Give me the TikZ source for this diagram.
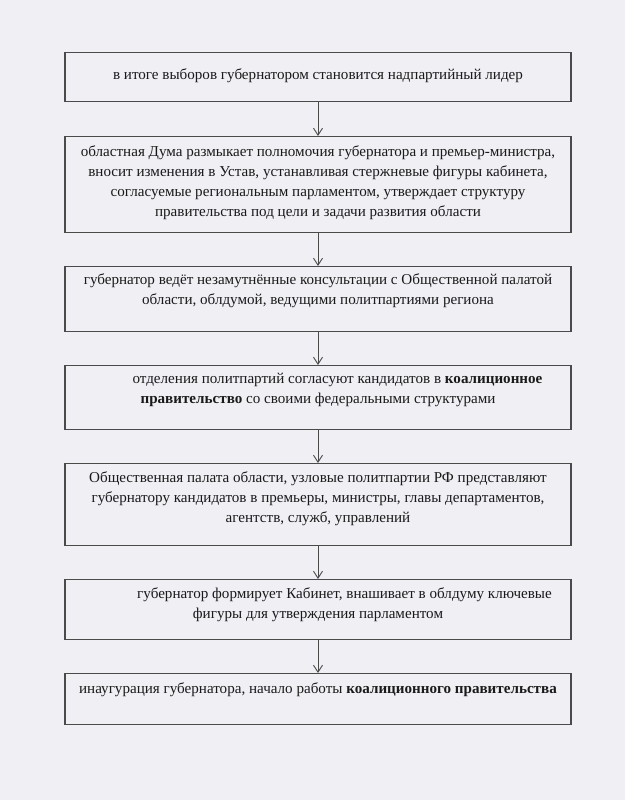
\documentclass[tikz,border=0pt]{standalone}
\usepackage{fontspec}
\setmainfont{Liberation Serif}
\usetikzlibrary{arrows.meta}
\definecolor{pagebg}{HTML}{EFEFF4}
\definecolor{edge}{HTML}{4A4A4A}
\definecolor{ink}{HTML}{1A1A1A}
\begin{document}
\begin{tikzpicture}[x=1pt,y=1pt,
  box/.style={draw=edge, line width=1.4pt, minimum width=506pt, inner sep=0pt, anchor=north},
  txt/.style={text=ink, align=center, inner sep=0pt, anchor=north, font=\fontsize{15.1}{20}\selectfont},
  arr/.style={draw=edge, line width=0.9pt, -{Straight Barb[length=7pt,width=9pt]}}]
\fill[pagebg] (0,0) rectangle (625,-800);
\useasboundingbox (0,0) rectangle (625,-800);

\node[box, minimum height=49pt] (b1) at (318,-52) {};
\node[box, minimum height=96pt] (b2) at (318,-136) {};
\node[box, minimum height=65pt] (b3) at (318,-266) {};
\node[box, minimum height=64pt] (b4) at (318,-365) {};
\node[box, minimum height=82pt] (b5) at (318,-463) {};
\node[box, minimum height=60pt] (b6) at (318,-579) {};
\node[box, minimum height=51pt] (b7) at (318,-673) {};

\node[txt] (t1) at (318,-68.5) {в итоге выборов губернатором становится надпартийный лидер};
\node[txt] (t2) at (318,-145) {областная Дума размыкает полномочия губернатора и премьер-министра,\\вносит изменения в Устав, устанавливая стержневые фигуры кабинета,\\согласуемые региональным парламентом, утверждает структуру\\правительства под цели и задачи развития области};
\node[txt] (t3) at (318,-273.5) {губернатор ведёт незамутнённые консультации с Общественной палатой\\области, облдумой, ведущими политпартиями региона};
\node[txt] (t4) at (318,-372.5) {\hspace*{39pt}отделения политпартий согласуют кандидатов в \textbf{коалиционное}\\\textbf{правительство} со своими федеральными структурами};
\node[txt] (t5) at (318,-471.5) {Общественная палата области, узловые политпартии РФ представляют\\губернатору кандидатов в премьеры, министры, главы департаментов,\\агентств, служб, управлений};
\node[txt] (t6) at (318,-587.5) {\hspace*{53pt}губернатор формирует Кабинет, внашивает в облдуму ключевые\\фигуры для утверждения парламентом};
\node[txt] (t7) at (318,-682.5) {инаугурация губернатора, начало работы \textbf{коалиционного правительства}};

\draw[arr] (b1.south) -- (b2.north);
\draw[arr] (b2.south) -- (b3.north);
\draw[arr] (b3.south) -- (b4.north);
\draw[arr] (b4.south) -- (b5.north);
\draw[arr] (b5.south) -- (b6.north);
\draw[arr] (b6.south) -- (b7.north);
\end{tikzpicture}
\end{document}
